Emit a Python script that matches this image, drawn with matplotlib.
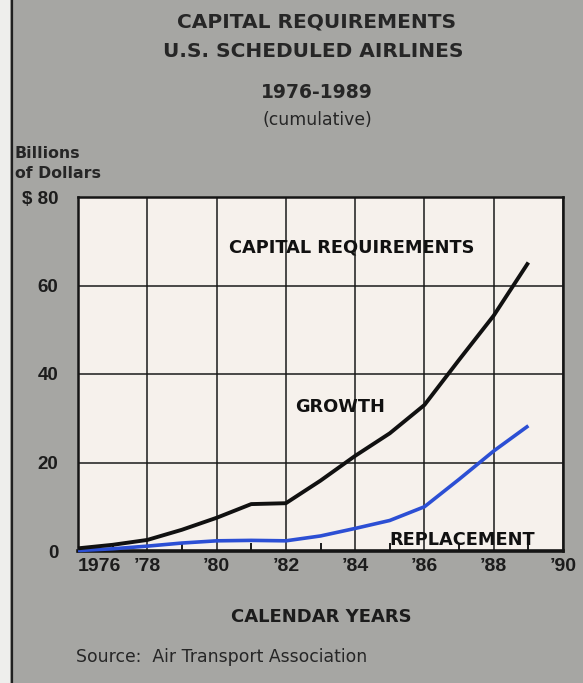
import matplotlib
matplotlib.use("Agg")
import matplotlib.pyplot as plt
from matplotlib.ticker import FixedLocator
from matplotlib.patches import Rectangle
from matplotlib.lines import Line2D

# ---- data ----
years = [1976, 1977, 1978, 1979, 1980, 1981, 1982, 1983, 1984, 1985, 1986, 1987, 1988, 1989]
growth = [0.6, 1.4, 2.5, 4.8, 7.5, 10.6, 10.8, 15.9, 21.5, 26.6, 33.0, 43.2, 53.2, 65.2]
replacement = [0.1, 0.5, 1.1, 1.8, 2.3, 2.4, 2.3, 3.4, 5.1, 6.9, 10.0, 16.2, 22.6, 28.3]
xtick_pos = [1976, 1978, 1980, 1982, 1984, 1986, 1988, 1990]
xtick_labels = ["1976", "\u201978", "\u201980", "\u201982", "\u201984", "\u201986", "\u201988", "\u201990"]
ytick_pos = [0, 20, 40, 60, 80]
ytick_labels = ["0", "20", "40", "60", "$ 80"]

W, H = 583, 683
BG = "#a6a6a3"
FACE = "#f6f1ec"
INK = "#1c1c1c"
BLUE = "#2c4fd4"

fig = plt.figure(figsize=(W / 100, H / 100), dpi=100, facecolor=BG)

def fx(px):
    return px / W

def fy(py):
    return 1 - py / H

# page edge at left
fig.patches.append(Rectangle((0, 0), fx(10), 1, transform=fig.transFigure,
                             facecolor="#eeeeec", edgecolor="none", zorder=0))
fig.add_artist(Line2D([fx(11.5), fx(11.5)], [0, 1], transform=fig.transFigure,
                      color="#202020", lw=1.6))

ax = fig.add_axes([fx(78), fy(551), fx(563) - fx(78), fy(197) - fy(551)])
ax.set_facecolor(FACE)
ax.set_xlim(1976, 1990)
ax.set_ylim(0, 80)

ax.plot(years, growth, color="#111111", lw=2.8, solid_capstyle="butt", zorder=4, clip_on=False)
ax.plot(years, replacement, color=BLUE, lw=2.6, solid_capstyle="butt", zorder=3, clip_on=False)

# grid
ax.xaxis.set_major_locator(FixedLocator(xtick_pos))
ax.yaxis.set_major_locator(FixedLocator(ytick_pos))
ax.grid(True, which="major", color="#1a1a1a", lw=1.1)
ax.set_axisbelow(True)
ax.xaxis.set_minor_locator(FixedLocator([y for y in years if y % 2 == 1]))
ax.tick_params(axis="x", which="minor", direction="in", length=6, width=1.4, color="#1a1a1a",
               top=False, bottom=True)
ax.tick_params(axis="both", which="major", length=0)
ax.tick_params(axis="x", which="major", pad=5)
ax.tick_params(axis="y", which="major", pad=14)

ax.set_xticklabels(xtick_labels, fontfamily="Liberation Sans", fontweight="bold",
                   fontsize=14, color=INK)
ax.get_xticklabels()[0].set_horizontalalignment("left")
ax.set_yticklabels(ytick_labels, fontfamily="Liberation Sans", fontweight="bold",
                   fontsize=13.5, color=INK)

for s in ax.spines.values():
    s.set_color("#151515")
    s.set_linewidth(1.8)
ax.spines["bottom"].set_linewidth(2.6)

# in-plot labels
lab_kw = dict(fontfamily="DejaVu Sans", fontweight="bold", fontsize=12.8, color="#111111",
              ha="center", va="baseline", zorder=5)
ax.text(1983.91, 67.4, "CAPITAL REQUIREMENTS", **lab_kw)
ax.text(1983.56, 31.4, "GROWTH", **lab_kw)
ax.text(1987.09, 1.4, "REPLACEMENT", **lab_kw)

# titles
tkw = dict(fontfamily="DejaVu Sans", color="#262626", ha="center", va="baseline")
fig.text(fx(317), fy(28), "CAPITAL REQUIREMENTS", fontsize=14.5, fontweight="bold", **tkw)
fig.text(fx(313), fy(57), "U.S. SCHEDULED AIRLINES", fontsize=14.5, fontweight="bold", **tkw)
fig.text(fx(317), fy(98), "1976-1989", fontsize=13.5, fontweight="bold", **tkw)
fig.text(fx(317), fy(125), "(cumulative)", fontsize=12.4, **tkw)

fig.text(fx(15), fy(158), "Billions", fontsize=11.3, fontweight="bold",
         fontfamily="DejaVu Sans", color="#262626", ha="left", va="baseline")
fig.text(fx(15), fy(178), "of Dollars", fontsize=11.3, fontweight="bold",
         fontfamily="DejaVu Sans", color="#262626", ha="left", va="baseline")

fig.text(fx(321), fy(622), "CALENDAR YEARS", fontsize=13, fontweight="bold",
         fontfamily="DejaVu Sans", color="#1c1c1c", ha="center", va="baseline")
fig.text(fx(76), fy(662), "Source:  Air Transport Association", fontsize=12.4,
         fontfamily="DejaVu Sans", color="#262626", ha="left", va="baseline")

fig.savefig("out.png", dpi=100, facecolor=BG)
